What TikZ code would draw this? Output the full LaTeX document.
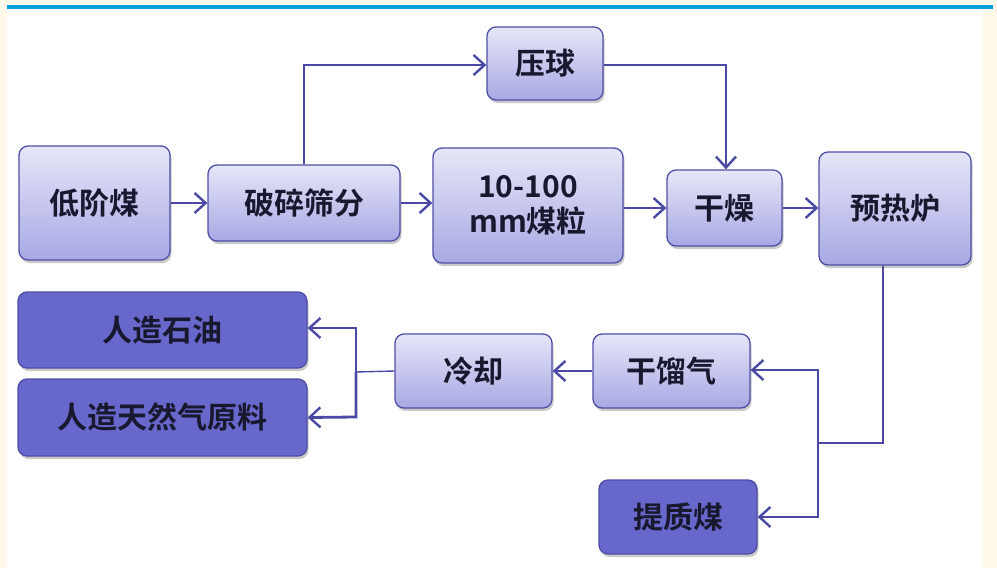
\documentclass[tikz,border=0pt]{standalone}
\usepackage{fontspec}
\newfontfamily\cjk{Noto Sans CJK SC Bold}
\usetikzlibrary{arrows.meta,shadows}
\definecolor{bgcream}{HTML}{FFF9EC}
\definecolor{topblue}{HTML}{0AA0E0}
\definecolor{lighttop}{HTML}{E6E6F8}
\definecolor{lightbot}{HTML}{A8A8E4}
\definecolor{boxborder}{HTML}{4E4EA6}
\definecolor{darkfill}{HTML}{6767CC}
\definecolor{txt}{HTML}{18182E}
\definecolor{linec}{HTML}{4A4AA6}
\tikzset{
  box/.style={rounded corners=9pt, draw=boxborder, line width=1.3pt,
    drop shadow={shadow xshift=1.5pt, shadow yshift=-3pt, opacity=0.35, fill=black!60},
    font=\cjk\fontsize{30}{35}\selectfont, text=txt, align=center, inner sep=0pt},
  lightbox/.style={box, top color=lighttop, bottom color=lightbot},
  darkbox/.style={box, fill=darkfill},
  conn/.style={draw=linec, line width=2.8pt, -{Straight Barb[length=11pt,width=20pt,line width=2.4pt]}},
  plain/.style={draw=linec, line width=2.8pt}
}
\begin{document}
\begin{tikzpicture}[x=1pt,y=-1pt]
\useasboundingbox (0,0) rectangle (997,568);
\fill[bgcream] (0,0) rectangle (997,568);
\fill[white] (7,8) rectangle (983,568);
\fill[topblue] (7,5) rectangle (993,8.5);
% nodes
\node[lightbox, minimum width=151pt, minimum height=114pt] (dijie) at (94.5,203) {低阶煤};
\node[lightbox, minimum width=192pt, minimum height=76pt] (posui) at (304,203) {破碎筛分};
\node[lightbox, minimum width=116pt, minimum height=73pt] (yaqiu) at (545,63.5) {压球};
\node[lightbox, minimum width=190pt, minimum height=115pt] (meili) at (528,205.5) {10-100\\mm煤粒};
\node[lightbox, minimum width=115pt, minimum height=76pt] (ganzao) at (724.5,208) {干燥};
\node[lightbox, minimum width=152pt, minimum height=113pt] (yure) at (895,208.5) {预热炉};
\node[lightbox, minimum width=157pt, minimum height=74pt] (ganliu) at (671.5,371) {干馏气};
\node[lightbox, minimum width=157pt, minimum height=74pt] (lengque) at (473.5,371) {冷却};
\node[darkbox, minimum width=158pt, minimum height=74pt] (tizhi) at (678,517) {提质煤};
\node[darkbox, minimum width=289pt, minimum height=76pt] (shiyou) at (162.5,330) {人造石油};
\node[darkbox, minimum width=289pt, minimum height=77pt] (tianran) at (162.5,417.5) {人造天然气原料};
% connectors
\draw[conn] (dijie.east) -- (posui.west);
\draw[conn] (posui.east) -- (meili.west |- posui.east);
\draw[conn] (meili.east |- ganzao.west) -- (ganzao.west);
\draw[conn] (ganzao.east) -- (yure.west |- ganzao.east);
\draw[conn] (posui.north) -- (304,65) -- (yaqiu.west |- 0,65);
\draw[conn] (yaqiu.east |- 0,65) -- (726,65) -- (ganzao.north -| 726,0);
\coordinate (j1) at (818,443);
\draw[plain] (yure.south -| 883,0) -- (883,443) -- (j1);
\draw[conn] (j1) -- (818,370) -- (ganliu.east |- 0,370);
\draw[conn] (j1) -- (818,517) -- (tizhi.east);
\draw[conn] (ganliu.west) -- (lengque.east);
\coordinate (j2) at (356,372);
\draw[draw=linec, line width=1.4pt] (lengque.west) -- (j2);
\draw[conn] (j2) -- (356,328) -- (shiyou.east |- 0,328);
\draw[conn] (j2) -- (356,417) -- (tianran.east);
\end{tikzpicture}
\end{document}
